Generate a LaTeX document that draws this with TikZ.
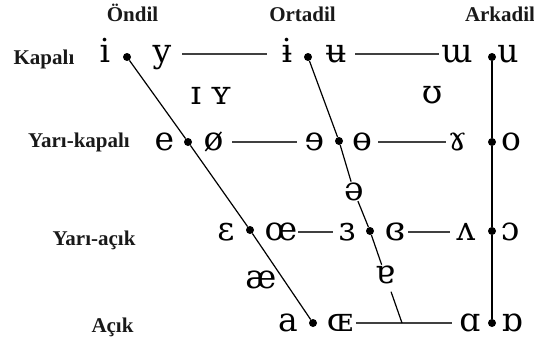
\documentclass[tikz,border=0pt]{standalone}
\usepackage{fontspec}
\setmainfont{Liberation Serif}
\newfontfamily\ipafont{DejaVu Serif}
\begin{document}
\begin{tikzpicture}[x=1pt,y=-1pt,
  vowel/.style={font=\ipafont\fontsize{33}{38}\selectfont, inner sep=0pt, text height=26pt, text depth=9pt, text=black},
  lone/.style={font=\ipafont\fontsize{33}{38}\selectfont, inner sep=0.5pt, text=black, anchor=base},
  lbl/.style={font=\fontsize{21}{24}\selectfont\bfseries, inner sep=0pt, text=black!90, anchor=base},
  dot/.style={circle, fill=black, inner sep=0pt, minimum size=8pt},
  hl/.style={line width=1.1pt, black!75},
  dl/.style={line width=1.2pt, black}]
\useasboundingbox (0,0) rectangle (534,345);

% headers
\node[lbl] (hF) at (132.5,22) {Öndil};
\node[lbl] (hC) at (302.5,22) {Ortadil};
\node[lbl] (hB) at (500,22) {Arkadil};
% row labels
\node[lbl] (r1) at (44,64) {Kapalı};
\node[lbl] (r2) at (79,147) {Yarı-kapalı};
\node[lbl] (r3) at (94,245) {Yarı-açık};
\node[lbl] (r4) at (112.5,332) {Açık};

% close
\node[vowel] (vi) at (105,54) {i};
\node[vowel] (vy) at (162,54) {y};
\node[vowel] (vib) at (287,54) {ɨ};
\node[vowel] (vub) at (336,54) {ʉ};
\node[vowel] (vm) at (457,54) {ɯ};
\node[vowel] (vu) at (508,54) {u};
% near-close
\node[lone] (vI) at (196,104) {ɪ};
\node[lone] (vY) at (221,104) {ʏ};
\node[lone] (vU) at (432,103) {ʊ};
% close-mid
\node[vowel] (ve) at (164.5,142) {e};
\node[vowel] (vo2) at (213.5,142) {ø};
\node[vowel] (vre) at (314.5,142) {ɘ};
\node[vowel] (vbo) at (362,142) {ɵ};
\node[vowel] (vgam) at (457.5,142) {ɤ};
\node[vowel] (vo) at (511,142) {o};
% mid
\node[lone] (vschwa) at (354,200) {ə};
% open-mid
\node[vowel] (veps) at (226,232) {ɛ};
\node[vowel] (voe) at (281,232) {œ};
\node[vowel] (vre3) at (347,232) {ɜ};
\node[vowel] (vcl3) at (395,232) {ɞ};
\node[vowel] (vwedge) at (466,232) {ʌ};
\node[vowel] (vopo) at (510,232) {ɔ};
% near-open
\node[lone] (vae) at (261,288) {æ};
\node[lone] (vturna) at (385,283) {ɐ};
% open
\node[vowel] (va) at (288,323) {a};
\node[vowel] (vOE) at (340,323) {ɶ};
\node[vowel] (valpha) at (470,323) {ɑ};
\node[vowel] (vtalpha) at (512,323) {ɒ};

% dots
\node[dot] (dI) at (127,57) {};
\node[dot] (dE) at (188,142) {};
\node[dot] (dEps) at (250,230) {};
\node[dot] (dA) at (313,323) {};
\node[dot] (dC1) at (308,57) {};
\node[dot] (dC2) at (339,141) {};
\node[dot] (dC3) at (370,231) {};
\node[dot] (dB1) at (492,57) {};
\node[dot] (dB2) at (492,142) {};
\node[dot] (dB3) at (492,231) {};
\node[dot] (dB4) at (492,323) {};
\coordinate (cJ) at (402,323);

% horizontal lines
\draw[hl, shorten <=20pt, shorten >=20pt] (vy.center) -- (vib.center);
\draw[hl, shorten <=19pt, shorten >=18pt] (vub.center) -- (vm.center);
\draw[hl, shorten <=18.5pt, shorten >=17.5pt] (vo2.center) -- (vre.center);
\draw[hl, shorten <=16pt, shorten >=12pt] (vbo.center) -- (vgam.center);
\draw[hl, shorten <=17pt, shorten >=14pt] (voe.center) -- (vre3.center);
\draw[hl, shorten <=13pt, shorten >=16pt] (vcl3.center) -- (vwedge.center);
\draw[hl, shorten <=16pt, shorten >=18pt] (vOE.center) -- (valpha.center);

% front edge
\draw[dl] (dI) -- (dE) -- (dEps) -- (dA);
% central edge
\draw[dl] (dC1) -- (dC2) -- (vschwa);
\draw[dl] (vschwa) -- (dC3) -- (vturna);
\draw[dl, shorten <=8pt] (vturna) -- (cJ);
% back edge
\draw[dl] (dB1) -- (dB2) -- (dB3) -- (dB4);
\end{tikzpicture}
\end{document}
